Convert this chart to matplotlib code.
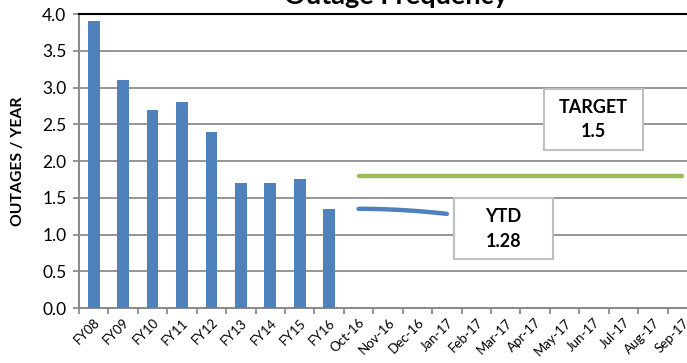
import matplotlib

matplotlib.use("Agg")
import matplotlib.pyplot as plt
from matplotlib.patches import Rectangle
import numpy as np

plt.rcParams["font.family"] = ["Lato", "DejaVu Sans"]

# Årsvärden (staplar) och månadsvärden (linjer)
years = ["FY08", "FY09", "FY10", "FY11", "FY12", "FY13", "FY14", "FY15", "FY16"]
year_values = [3.9, 3.1, 2.7, 2.8, 2.4, 1.7, 1.7, 1.75, 1.35]
months = ["Oct-16", "Nov-16", "Dec-16", "Jan-17", "Feb-17", "Mar-17",
          "Apr-17", "May-17", "Jun-17", "Jul-17", "Aug-17", "Sep-17"]
ytd_values = [1.35, 1.34, 1.32, 1.28]
target_values = [1.8] * 12

labels = years + months
n_years = len(years)

BLUE = "#4F81BD"
GREEN = "#9BBB59"
GRID = "#8C8C8C"

fig = plt.figure(figsize=(6.87, 3.63), dpi=100)
ax = fig.add_axes([0.115, 0.1515, 0.8996, 0.8099])

x_years = np.arange(n_years)
ax.bar(x_years, year_values, width=0.4, color=BLUE, zorder=3)

x_months = np.arange(n_years, len(labels))
ax.plot(x_months, target_values, color=GREEN, lw=3.2,
        solid_capstyle="round", zorder=3)

# Mjuk kurva genom YTD-punkterna
xy = x_months[:len(ytd_values)]
xs = np.linspace(xy[0], xy[-1], 60)
ys = np.polyval(np.polyfit(xy, ytd_values, 2), xs)
ax.plot(xs, ys, color=BLUE, lw=3.2, solid_capstyle="round", zorder=3)

ax.set_xlim(-0.5, len(labels) - 0.5)
ax.set_ylim(0, 4.0)
yt = np.arange(0, 4.01, 0.5)
ax.set_yticks(yt)
ax.set_yticklabels([f"{v:.1f}" for v in yt], fontsize=12.5)
ax.set_xticks(np.arange(len(labels) + 1) - 0.5)
ax.set_xticklabels([])
ax.set_xticks(np.arange(len(labels)), minor=True)
ax.set_xticklabels(labels, minor=True, rotation=45, ha="right",
                   rotation_mode="anchor", fontsize=9.5)
ax.tick_params(axis="x", which="minor", length=0, pad=6)
ax.tick_params(axis="x", which="major", length=4, color=GRID, width=1.3)
ax.tick_params(axis="y", length=4, color=GRID, width=1.3, pad=5)

ax.yaxis.grid(True, color=GRID, lw=1.3, zorder=0)
ax.set_axisbelow(True)
for side in ("left", "bottom"):
    ax.spines[side].set_color(GRID)
    ax.spines[side].set_linewidth(1.5)
ax.spines["right"].set_visible(False)
ax.spines["top"].set_color("black")
ax.spines["top"].set_linewidth(1.5)

ax.set_ylabel("OUTAGES / YEAR", fontsize=11.3, fontweight="bold", labelpad=12)

fig.text(0.576, 0.99, "Outage Frequency", fontsize=19.5, fontweight="bold",
         ha="center", va="baseline")


def text_box(cx, cy, lines):
    """Vit ruta med grå kant och två rader fet text, centrerad i (cx, cy)."""
    w, h = 3.36, 0.83
    ax.add_patch(Rectangle((cx - w / 2, cy - h / 2), w, h, fc="white",
                           ec="#BFBFBF", lw=1.5, zorder=4))
    ax.text(cx, cy + 0.165, lines[0], ha="center", va="center", fontsize=13,
            fontweight="bold", zorder=5)
    ax.text(cx, cy - 0.165, lines[1], ha="center", va="center", fontsize=13,
            fontweight="bold", zorder=5)


text_box(16.98, 2.565, ("TARGET", "1.5"))
text_box(13.92, 1.075, ("YTD", "1.28"))

fig.savefig("out.png", dpi=100)
